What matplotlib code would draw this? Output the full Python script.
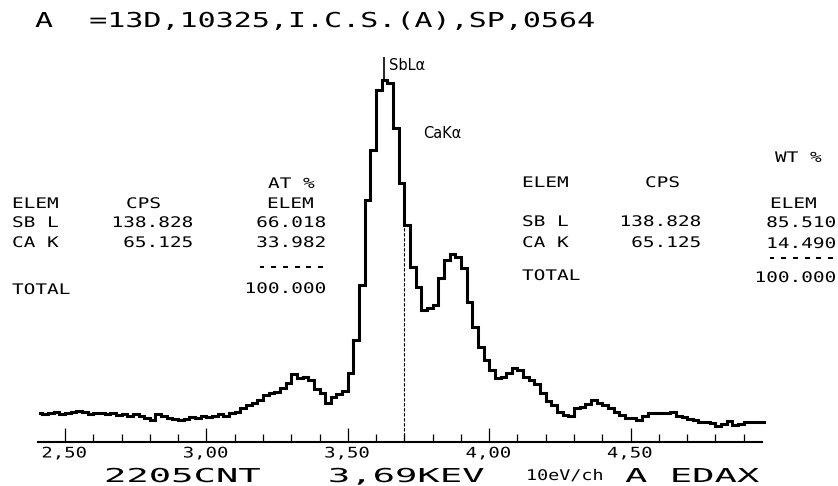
import numpy as np
import matplotlib
matplotlib.use("Agg")
import matplotlib.pyplot as plt
from matplotlib.patheffects import AbstractPathEffect
from matplotlib.transforms import Affine2D

# ---------------- data ----------------
energy_kev = np.round(np.arange(2.41, 4.971, 0.02), 2)
counts = [
    29, 28, 29, 30, 28, 29, 30, 31, 30, 28,      # 2.41 - 2.59
    29, 29, 28, 29, 27, 28, 26, 28, 26, 24,      # 2.61 - 2.79
    22, 28, 26, 24, 23, 22, 23, 25, 24, 26,      # 2.81 - 2.99
    25, 26, 28, 26, 29, 30, 34, 37, 39, 42,      # 3.01 - 3.19
    47, 49, 50, 54, 59, 68, 64, 65, 62, 53,      # 3.21 - 3.39
    49, 39, 45, 48, 51, 69, 102, 157, 242, 292,  # 3.41 - 3.59
    352, 362, 359, 314, 259, 217, 175, 155, 132, 134,  # 3.61 - 3.79
    137, 164, 182, 188, 185, 174, 140, 115, 95, 82,    # 3.81 - 3.99
    72, 64, 65, 69, 74, 72, 65, 62, 58, 49,      # 4.01 - 4.19
    41, 37, 30, 27, 26, 34, 35, 38, 42, 39,      # 4.21 - 4.39
    37, 34, 30, 27, 24, 24, 22, 26, 29, 29,      # 4.41 - 4.59
    29, 29, 30, 26, 25, 23, 22, 20, 20, 19,      # 4.61 - 4.79
    16, 18, 21, 17, 18, 20, 20, 20,              # 4.81 - 4.95
    20,                                          # 4.97
]
counts = np.array(counts[:len(energy_kev)])

major_ticks = [2.5, 3.0, 3.5, 4.0, 4.5]
major_labels = ["2,50", "3,00", "3,50", "4,00", "4,50"]
minor_ticks = [2.6, 2.7, 2.8, 2.9, 3.1, 3.2, 3.3, 3.4, 3.6, 3.7, 3.8, 3.9,
               4.1, 4.2, 4.3, 4.4, 4.6, 4.7, 4.8, 4.9]
cursor_kev = 3.698
sb_marker_kev = 3.628

title_text = "A  =13D,10325,I.C.S.(A),SP,0564"
bottom_left_text = "2205CNT   3,69KEV"
bottom_mid_text = "10eV/ch"
bottom_right_text = "A EDAX"

elements = ["SB L", "CA K"]
cps_values = ["138.828", "65.125"]
at_pct = ["66.018", "33.982"]
wt_pct = ["85.510", "14.490"]
total_value = "100.000"

# ---------------- figure / axes ----------------
W, H = 838, 486
PX_PER_KEV = 282.8
X0_PIX = 65.0          # pixel of 2.50 keV
Y0_PIX = 442.0         # pixel row of the energy axis

fig = plt.figure(figsize=(W / 100, H / 100), dpi=100)
fig.patch.set_facecolor("white")
ax = fig.add_axes([0, 0, 1, 1])
e_left = 2.5 - X0_PIX / PX_PER_KEV
ax.set_xlim(e_left, e_left + W / PX_PER_KEV)
ax.set_ylim(Y0_PIX - H, Y0_PIX)
ax.set_facecolor("white")


def kev_to_px(e):
    return X0_PIX + (e - 2.5) * PX_PER_KEV


class HStretch(AbstractPathEffect):
    """Stretch glyphs horizontally around a fixed display x (plotter look)."""

    def __init__(self, sx, x0):
        super().__init__()
        self._sx = sx
        self._x0 = x0

    def draw_path(self, renderer, gc, tpath, affine, rgbFace=None):
        s = Affine2D().translate(-self._x0, 0).scale(self._sx, 1.0).translate(self._x0, 0)
        renderer.draw_path(gc, tpath, affine + s, rgbFace)


def put(s, x, y, size, sx, ha="left", family="DejaVu Sans Mono"):
    t = fig.text(x / W, 1 - y / H, s, fontsize=size, family=family,
                 ha=ha, va="baseline", color="black")
    t.set_path_effects([HStretch(sx, x)])
    return t


# spectrum
ax.step(energy_kev, counts, where="mid", color="black", lw=2.2,
        solid_joinstyle="miter")

# cursor (dashed) and SbLa marker
cursor_top = float(np.interp(cursor_kev, energy_kev, counts))
ax.vlines(cursor_kev, 1, cursor_top, colors="black", lw=0.8,
          linestyles=(0, (3, 1.5)))
sb_base = float(np.interp(sb_marker_kev, energy_kev, counts))
ax.vlines(sb_marker_kev, sb_base, 385, colors="black", lw=1.2)

# energy axis
for sp in ["top", "left", "right"]:
    ax.spines[sp].set_visible(False)
ax.spines["bottom"].set_position(("data", 0))
ax.spines["bottom"].set_bounds(2.405, 4.965)
ax.spines["bottom"].set_linewidth(1.5)
ax.set_yticks([])
ax.set_xticks(major_ticks, labels=major_labels)
ax.set_xticks(minor_ticks, minor=True)
ax.tick_params(axis="x", which="major", direction="in", length=10, width=0.9,
               pad=2.5, labelsize=10.5)
ax.tick_params(axis="x", which="minor", direction="in", length=5.5, width=0.9)
for tk, lab in zip(major_ticks, ax.get_xticklabels()):
    lab.set_family("DejaVu Sans Mono")
    lab.set_path_effects([HStretch(1.3, kev_to_px(tk) + 3)])

# peak labels
fig.text(389 / W, 1 - 70 / H, "SbLα", fontsize=10.5, family="DejaVu Sans",
         ha="left", va="baseline")
fig.text(423 / W, 1 - 138 / H, "CaKα", fontsize=10.5, family="DejaVu Sans",
         ha="left", va="baseline")

# title and bottom line
put(title_text, 35, 27, 14.8, 1.46)
put(bottom_left_text, 104, 482, 13.8, 1.94)
put(bottom_mid_text, 526, 480, 10.6, 1.25)
put(bottom_right_text, 625, 482, 13.8, 1.94)

# ---------------- left table (AT %) ----------------
TS, TSX = 10.5, 1.33
put("AT %", 268, 188, TS, TSX)
put("ELEM", 12, 208, TS, TSX)
put("CPS", 126, 208, TS, TSX)
put("ELEM", 267, 208, TS, TSX)
rows_l = [227, 247]
for el, c, a, yb in zip(elements, cps_values, at_pct, rows_l):
    put(el, 12, yb, TS, TSX)
    put(c, 193, yb, TS, TSX, ha="right")
    put(a, 326, yb, TS, TSX, ha="right")
put("------", 326, 271, TS, TSX, ha="right")
put("TOTAL", 12, 294, TS, TSX)
put(total_value, 326, 293, TS, TSX, ha="right")

# ---------------- right table (WT %) ----------------
put("WT %", 775, 162, TS, TSX)
put("ELEM", 522, 187, TS, TSX)
put("CPS", 645, 187, TS, TSX)
put("ELEM", 770, 208, TS, TSX)
rows_r = [226, 247]
for el, c, w, yb in zip(elements, cps_values, wt_pct, rows_r):
    put(el, 522, yb, TS, TSX)
    put(c, 701, yb, TS, TSX, ha="right")
    put(w, 836, yb + 1, TS, TSX, ha="right")
put("------", 836, 262, TS, TSX, ha="right")
put("TOTAL", 522, 280, TS, TSX)
put(total_value, 836, 282, TS, TSX, ha="right")

fig.savefig("out.png", dpi=100, facecolor="white")
